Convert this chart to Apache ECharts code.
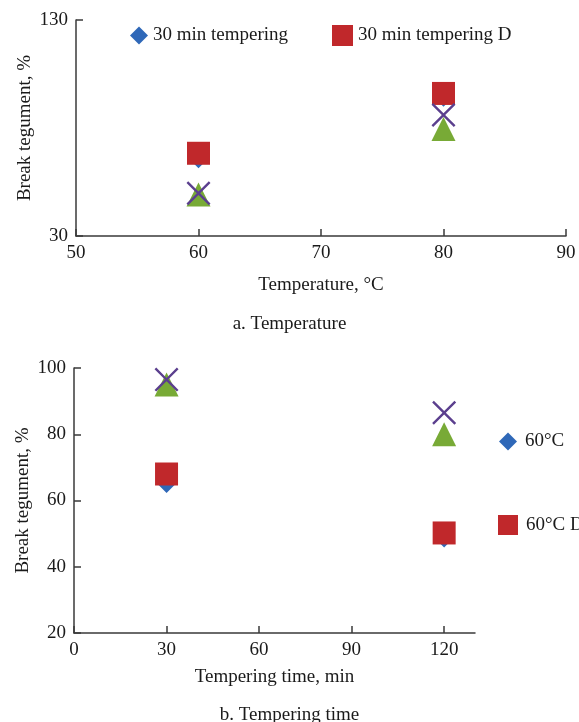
<!DOCTYPE html>
<html>
<head>
<meta charset="utf-8">
<script src="https://cdn.jsdelivr.net/npm/echarts@6/dist/echarts.min.js"></script>
<style>html,body{margin:0;padding:0;background:#fff}#c{width:579px;height:722px}</style>
</head>
<body>
<div id="c"></div>
<script>
// ---- Chart a: Temperature ----
const tempX = [60, 80];
const tempDiamond = [65.5, 94];   // 30 min tempering
const tempSquare = [68.3, 96];    // 30 min tempering D
const tempTriangle = [49.2, 79.5];
const tempCross = [49.8, 86];
const tempXTicks = [50, 60, 70, 80, 90];
const tempYTicks = [30, 130];

// ---- Chart b: Tempering time ----
const timeX = [30, 120];
const timeDiamond = [65, 48.5];   // 60°C
const timeSquare = [68, 50.2];    // 60°C D
const timeTriangle = [95, 80];
const timeCross = [96.5, 86.5];
const timeXTicks = [0, 30, 60, 90, 120];
const timeYTicks = [20, 40, 60, 80, 100];

const FONT = '"Liberation Serif", "DejaVu Serif", serif';
const TXT = '#1a1a1a';
const AX = '#3a3a3a';
const BLUE = '#2f68b8', RED = '#c0282b', GREEN = '#78aa36', PURPLE = '#5b3f8e';
const CROSS = 'path://M0,7L7,0L50,43L93,0L100,7L57,50L100,93L93,100L50,57L7,100L0,93L43,50Z';

function pts(xs, ys) { return xs.map((x, i) => [x, ys[i]]); }

function axisCommon() {
  return {
    axisLine: { show: true, lineStyle: { color: AX, width: 1.5 } },
    axisTick: { show: true, inside: true, length: 7, lineStyle: { color: AX, width: 1.5 } },
    splitLine: { show: false },
    axisLabel: { color: TXT, fontFamily: FONT, fontSize: 19 },
    nameTextStyle: { color: TXT, fontFamily: FONT, fontSize: 19 },
    nameLocation: 'middle',
    nameMoveOverlap: false
  };
}

function sc(name, data, sym, size, color, xi, z) {
  return {
    type: 'scatter', name, data, symbol: sym, symbolSize: size,
    xAxisIndex: xi, yAxisIndex: xi, z,
    itemStyle: { color, opacity: 1 },
    emphasis: { disabled: true }
  };
}

const chart = echarts.init(document.getElementById('c'), null, { renderer: 'canvas' });
chart.setOption({
  animation: false,
  backgroundColor: '#fff',
  title: [
    { text: 'a. Temperature', left: 'center', top: 310, textStyle: { color: TXT, fontFamily: FONT, fontSize: 19, fontWeight: 'normal' } },
    { text: 'b. Tempering time', left: 'center', top: 701, textStyle: { color: TXT, fontFamily: FONT, fontSize: 19, fontWeight: 'normal' } }
  ],
  grid: [
    { left: 76, top: 20, width: 490, height: 216 },
    { left: 74, top: 368, width: 401, height: 265 }
  ],
  legend: [
    { data: ['30 min tempering'], left: 125, top: 21, itemWidth: 18, itemHeight: 18, icon: 'diamond',
      textStyle: { color: TXT, fontFamily: FONT, fontSize: 19 } },
    { data: ['30 min tempering D'], left: 327, top: 20, itemWidth: 21, itemHeight: 21, icon: 'rect',
      textStyle: { color: TXT, fontFamily: FONT, fontSize: 19 } },
    { data: ['60°C'], left: 494, top: 427, itemWidth: 18, itemHeight: 18, icon: 'diamond',
      textStyle: { color: TXT, fontFamily: FONT, fontSize: 19, padding: [0, 0, 0, 3] } },
    { data: ['60°C D'], left: 493, top: 510, itemWidth: 20, itemHeight: 20, icon: 'rect',
      textStyle: { color: TXT, fontFamily: FONT, fontSize: 19, padding: [0, 0, 0, 3] } }
  ],
  xAxis: [
    Object.assign(axisCommon(), {
      type: 'value', gridIndex: 0, min: 50, max: 90, interval: 10,
      name: 'Temperature, °C', nameGap: 40
    }),
    Object.assign(axisCommon(), {
      type: 'value', gridIndex: 1, min: 0, max: 130, interval: 30,
      name: 'Tempering time, min', nameGap: 35
    })
  ],
  yAxis: [
    Object.assign(axisCommon(), {
      type: 'value', gridIndex: 0, min: 30, max: 130, interval: 100,
      name: 'Break tegument, %', nameGap: 41
    }),
    Object.assign(axisCommon(), {
      type: 'value', gridIndex: 1, min: 20, max: 100, interval: 20,
      name: 'Break tegument, %', nameGap: 41
    })
  ],
  series: [
    sc('30 min tempering', pts(tempX, tempDiamond), 'diamond', 18, BLUE, 0, 2),
    sc('30 min tempering D', pts(tempX, tempSquare), 'rect', 23, RED, 0, 3),
    sc('30 min tempering T', pts(tempX, tempTriangle), 'triangle', 24, GREEN, 0, 4),
    sc('30 min tempering X', pts(tempX, tempCross), CROSS, 24, PURPLE, 0, 5),
    sc('60°C', pts(timeX, timeDiamond), 'diamond', 18, BLUE, 1, 2),
    sc('60°C D', pts(timeX, timeSquare), 'rect', 23, RED, 1, 3),
    sc('60°C T', pts(timeX, timeTriangle), 'triangle', 24, GREEN, 1, 4),
    sc('60°C X', pts(timeX, timeCross), CROSS, 24, PURPLE, 1, 5)
  ]
});
// customise visible ticks on time axis (hide the 130 end tick)
chart.setOption({
  xAxis: [{}, {
    axisTick: { customValues: timeXTicks },
    axisLabel: { customValues: timeXTicks }
  }],
  yAxis: [{ axisLabel: { customValues: tempYTicks }, axisTick: { customValues: tempYTicks } }, {}]
});
</script>
</body>
</html>
